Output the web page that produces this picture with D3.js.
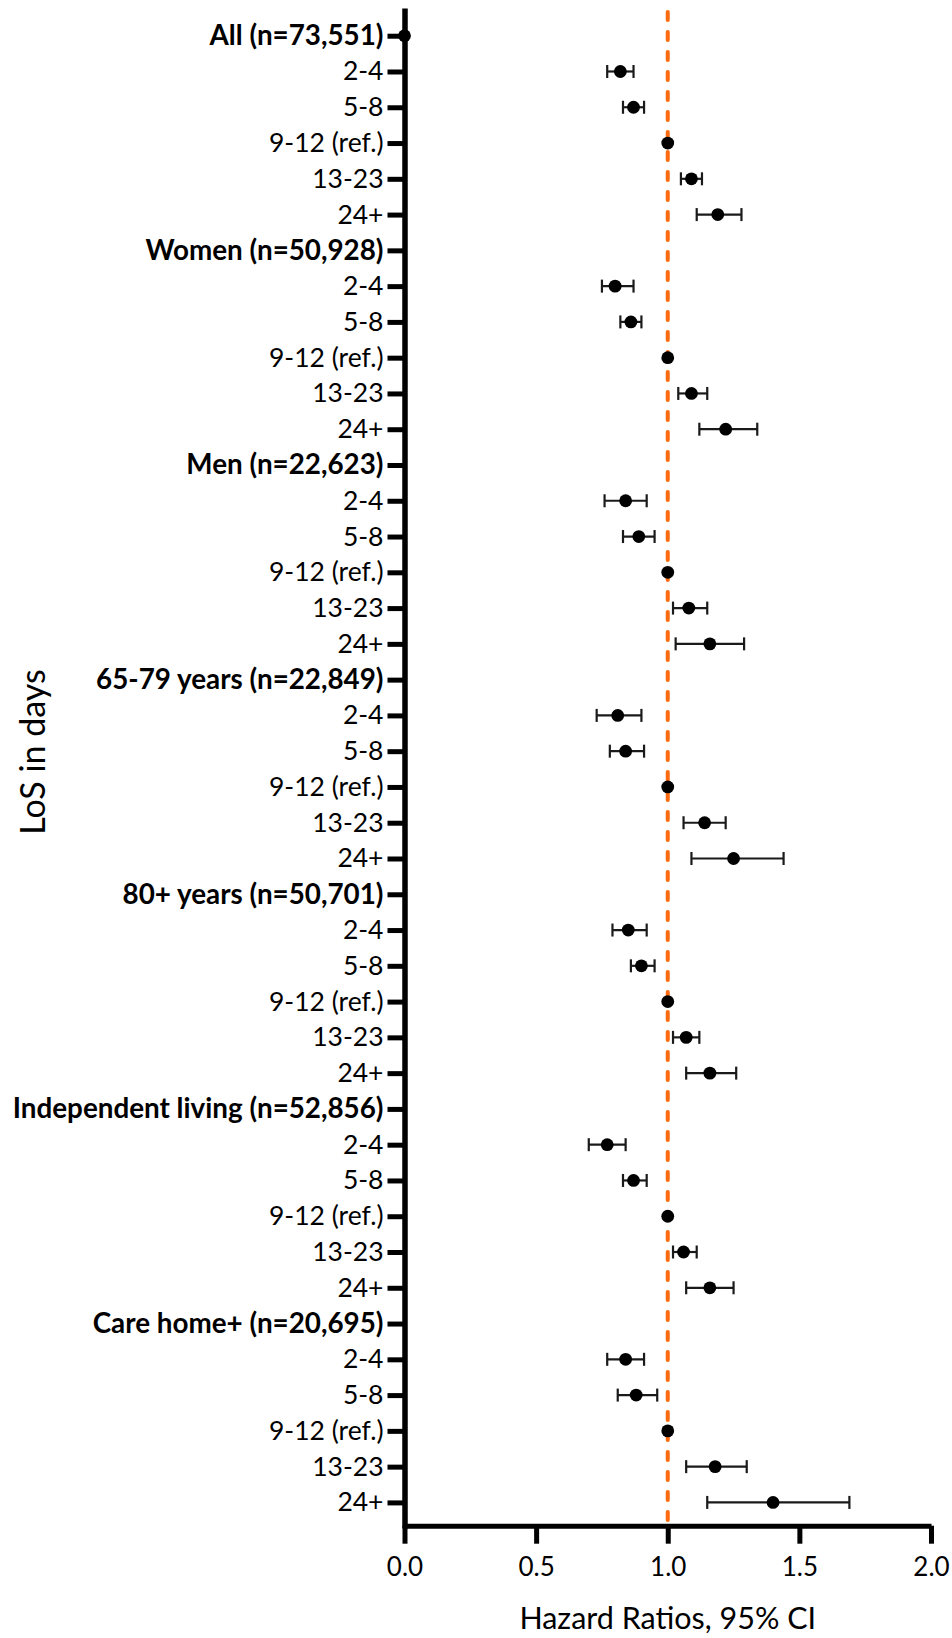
<!DOCTYPE html>
<html>
<head>
<meta charset="utf-8">
<script src="https://cdn.jsdelivr.net/npm/d3@7"></script>
<style>
  body { margin: 0; background: #fff; }
  svg text { font-family: Lato, "Open Sans", sans-serif; fill: #000; }
</style>
</head>
<body>
<div id="chart"></div>
<script>
// groups and the LoS categories inside each group
var groups = ["All (n=73,551)", "Women (n=50,928)", "Men (n=22,623)", "65-79 years (n=22,849)",
  "80+ years (n=50,701)", "Independent living (n=52,856)", "Care home+ (n=20,695)"];
var categories = ["2-4", "5-8", "9-12 (ref.)", "13-23", "24+"];

// hazard ratios per group, in category order
var hr = [
  [0.82, 0.87, 1.00, 1.09, 1.19],
  [0.80, 0.86, 1.00, 1.09, 1.22],
  [0.84, 0.89, 1.00, 1.08, 1.16],
  [0.81, 0.84, 1.00, 1.14, 1.25],
  [0.85, 0.90, 1.00, 1.07, 1.16],
  [0.77, 0.87, 1.00, 1.06, 1.16],
  [0.84, 0.88, 1.00, 1.18, 1.40]
];
var lower = [
  [0.77, 0.83, null, 1.05, 1.11],
  [0.75, 0.82, null, 1.04, 1.12],
  [0.76, 0.83, null, 1.02, 1.03],
  [0.73, 0.78, null, 1.06, 1.09],
  [0.79, 0.86, null, 1.02, 1.07],
  [0.70, 0.83, null, 1.02, 1.07],
  [0.77, 0.81, null, 1.07, 1.15]
];
var upper = [
  [0.87, 0.91, null, 1.13, 1.28],
  [0.87, 0.90, null, 1.15, 1.34],
  [0.92, 0.95, null, 1.15, 1.29],
  [0.90, 0.91, null, 1.22, 1.44],
  [0.92, 0.95, null, 1.12, 1.26],
  [0.84, 0.92, null, 1.11, 1.25],
  [0.91, 0.96, null, 1.30, 1.69]
];
// the overall header row has its own marker at 0
var headerValue = [0, null, null, null, null, null, null];
var xTicks = [0, 0.5, 1.0, 1.5, 2.0];

// build one row list
var rows = [];
groups.forEach(function(g, gi) {
  rows.push({ label: g, header: true, value: headerValue[gi], lo: null, hi: null });
  categories.forEach(function(c, ci) {
    rows.push({ label: c, header: false, value: hr[gi][ci], lo: lower[gi][ci], hi: upper[gi][ci] });
  });
});
rows.forEach(function(r, i) { r.id = i; });

var width = 952, height = 1638;
var svg = d3.select("#chart").append("svg")
  .attr("width", width)
  .attr("height", height);

var x = d3.scaleLinear().domain([0, 2]).range([404.5, 931]);
var y = d3.scalePoint()
  .domain(rows.map(function(d) { return d.id; }))
  .range([8, 1528])
  .padding(0.745)
  .align(0.52);
var axisY = 1525.7;

// reference line at HR = 1
svg.append("line")
  .attr("x1", x(1)).attr("x2", x(1))
  .attr("y1", 12).attr("y2", axisY)
  .attr("stroke", "#ff6a10")
  .attr("stroke-width", 4)
  .attr("stroke-linecap", "round")
  .attr("stroke-dasharray", "8,12");

// y axis
var gy = svg.append("g")
  .attr("transform", "translate(" + x(0) + ",0)")
  .call(d3.axisLeft(y)
    .tickSize(17)
    .tickSizeOuter(0)
    .tickPadding(4)
    .tickFormat(function(d) { return rows[d].label; }));
gy.select(".domain").attr("stroke", "#000").attr("stroke-width", 5.5);
gy.selectAll(".tick line").attr("stroke", "#000").attr("stroke-width", 5);
gy.selectAll(".tick text")
  .style("font-size", function(d) { return rows[d].header ? "27.8px" : "26.5px"; })
  .style("font-weight", function(d) { return rows[d].header ? "bold" : "normal"; });

// x axis
var gx = svg.append("g")
  .attr("transform", "translate(0," + axisY + ")")
  .call(d3.axisBottom(x)
    .tickValues(xTicks)
    .tickSize(18)
    .tickSizeOuter(0)
    .tickPadding(14)
    .tickFormat(d3.format(".1f")));
gx.select(".domain").attr("stroke", "#000").attr("stroke-width", 5);
gx.selectAll(".tick line").attr("stroke", "#000").attr("stroke-width", 5);
gx.selectAll(".tick text").style("font-size", "26px");

// error bars
var ci = rows.filter(function(d) { return d.lo != null; });
var bars = svg.append("g").attr("stroke", "#1a1a1a").attr("stroke-width", 2.2);
bars.selectAll(".ci").data(ci).enter().append("line")
  .attr("x1", function(d) { return x(d.lo); })
  .attr("x2", function(d) { return x(d.hi); })
  .attr("y1", function(d) { return y(d.id); })
  .attr("y2", function(d) { return y(d.id); });
bars.selectAll(".capl").data(ci).enter().append("line")
  .attr("x1", function(d) { return x(d.lo); })
  .attr("x2", function(d) { return x(d.lo); })
  .attr("y1", function(d) { return y(d.id) - 6.5; })
  .attr("y2", function(d) { return y(d.id) + 6.5; });
bars.selectAll(".capr").data(ci).enter().append("line")
  .attr("x1", function(d) { return x(d.hi); })
  .attr("x2", function(d) { return x(d.hi); })
  .attr("y1", function(d) { return y(d.id) - 6.5; })
  .attr("y2", function(d) { return y(d.id) + 6.5; });

// points
svg.selectAll(".pt")
  .data(rows.filter(function(d) { return d.value != null; }))
  .enter().append("circle")
  .attr("class", "pt")
  .attr("cx", function(d) { return x(d.value); })
  .attr("cy", function(d) { return y(d.id); })
  .attr("r", 6.4)
  .attr("fill", "#000");

// axis titles
svg.append("text")
  .attr("x", x(1))
  .attr("y", 1629)
  .attr("text-anchor", "middle")
  .style("font-size", "30.5px")
  .text("Hazard Ratios, 95% CI");

svg.append("text")
  .attr("transform", "translate(45,752) rotate(-90)")
  .attr("text-anchor", "middle")
  .style("font-size", "34px")
  .text("LoS in days");
</script>
</body>
</html>
